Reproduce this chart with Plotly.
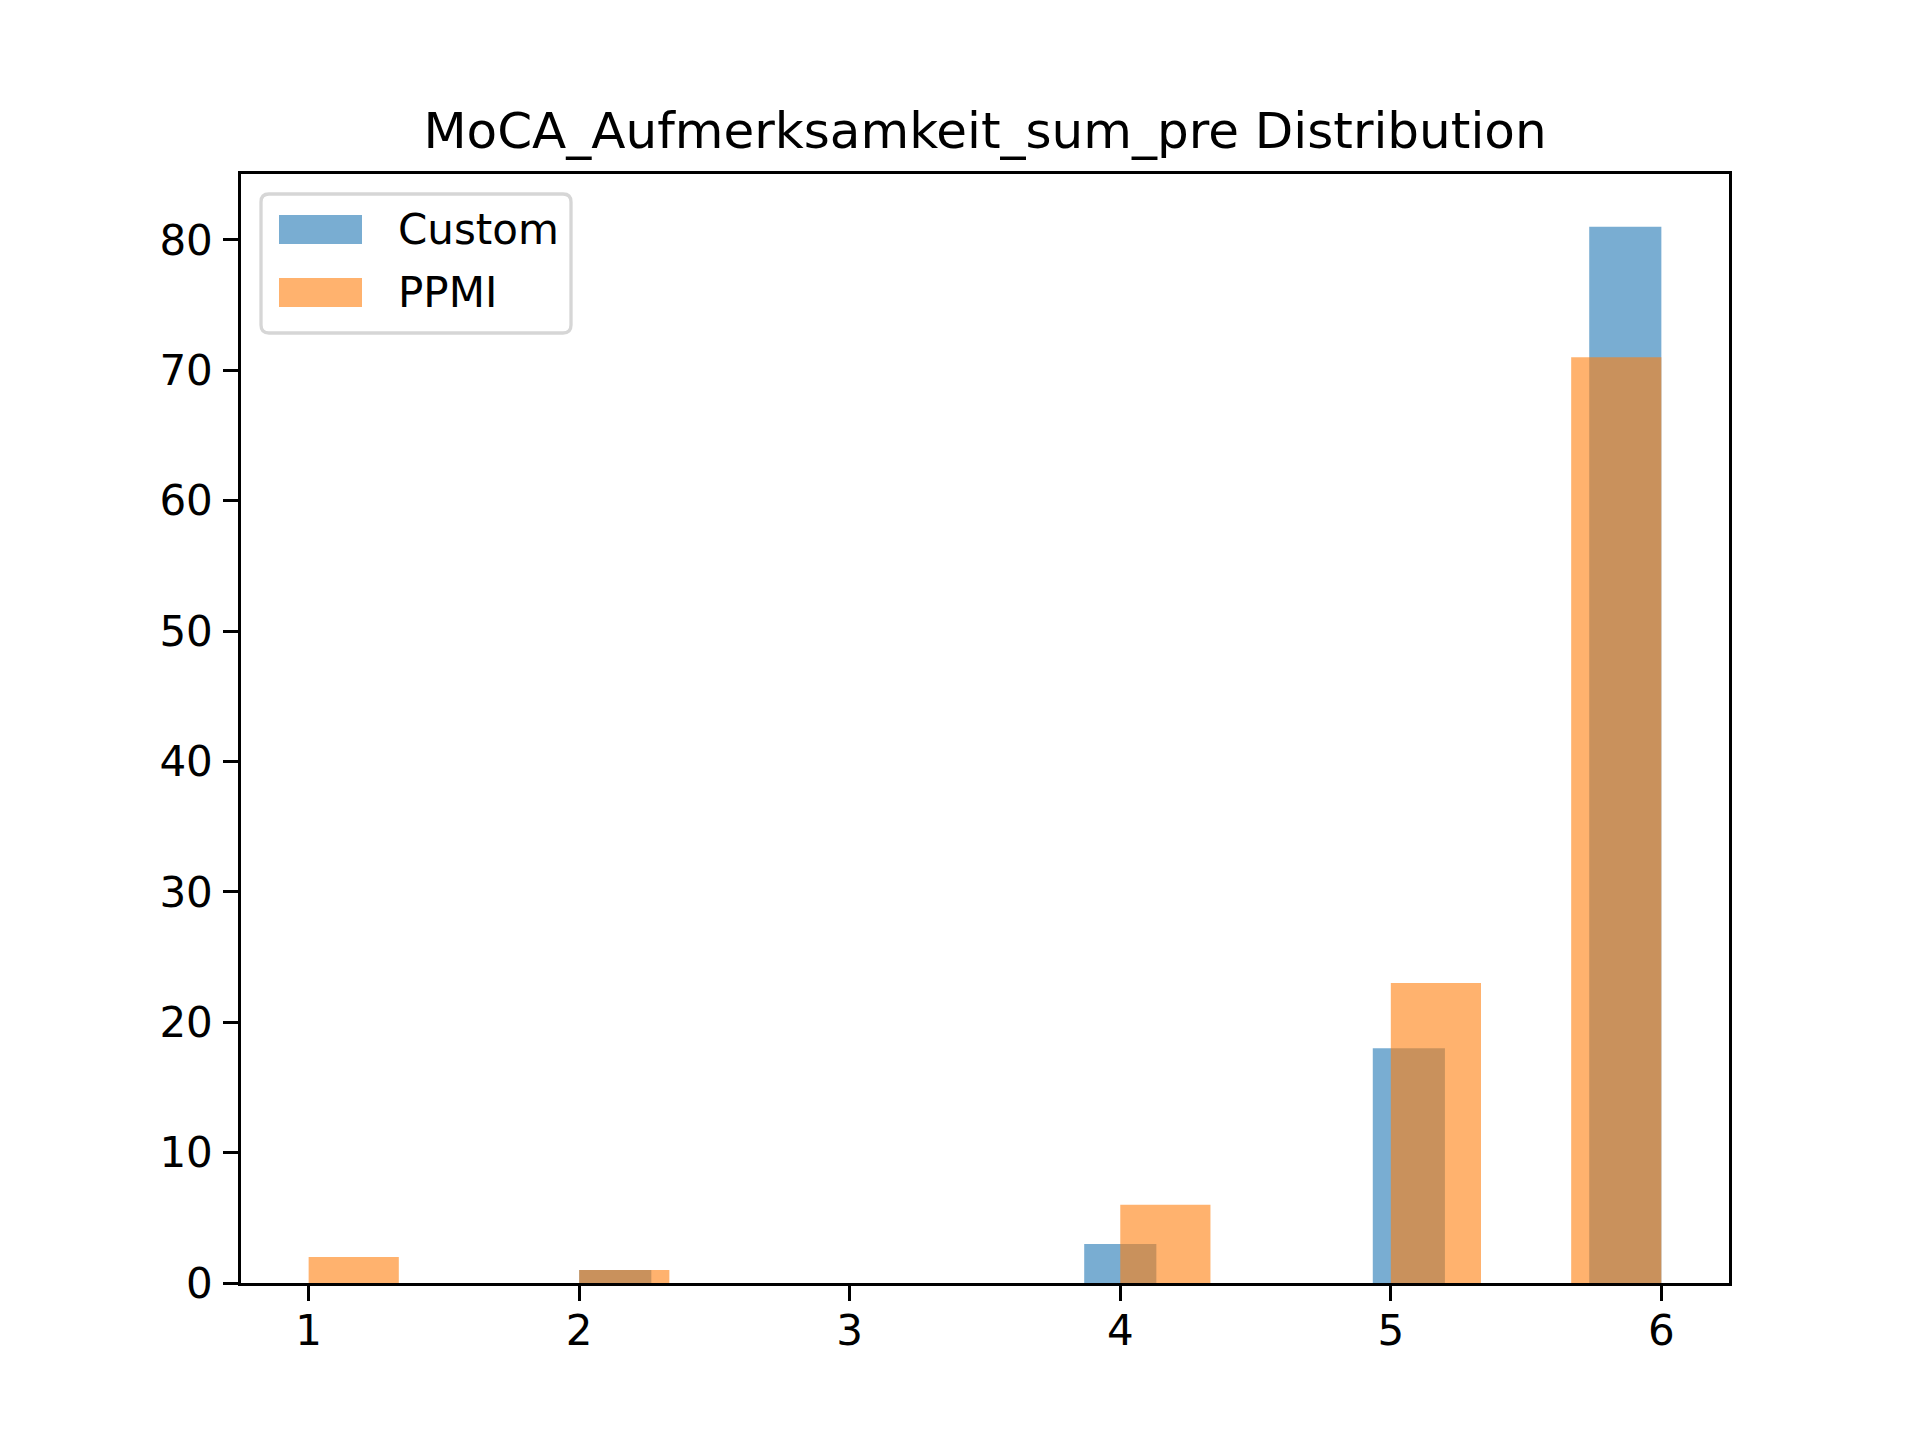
import numpy as np
import plotly.graph_objects as go

# observed scores and how often each occurs
custom_scores = [2, 4, 5, 6]
custom_counts = [1, 3, 18, 81]
ppmi_scores = [1, 2, 4, 5, 6]
ppmi_counts = [2, 1, 6, 23, 71]

series_names = ["Custom", "PPMI"]
series_colors = ["#1f77b4", "#ff7f0e"]

x_ticks = [1, 2, 3, 4, 5, 6]
y_ticks = [0, 10, 20, 30, 40, 50, 60, 70, 80]

FONT = "DejaVu Sans"
PLOT_W, PLOT_H = 1488, 1109  # plot area in px


def hist_bars(scores, counts, name, color):
    # same binning as a default 15-bin histogram over the data range
    h, edges = np.histogram(scores, bins=15, weights=counts)
    return go.Bar(
        x=edges[:-1],
        y=h,
        width=np.diff(edges),
        offset=0,
        name=name,
        marker=dict(color=color, line=dict(width=0)),
        opacity=0.6,
        showlegend=False,
    )


fig = go.Figure()
fig.add_trace(hist_bars(custom_scores, custom_counts, series_names[0], series_colors[0]))
fig.add_trace(hist_bars(ppmi_scores, ppmi_counts, series_names[1], series_colors[1]))


def px(x):
    return x / PLOT_W


def py(y):
    return 1 - y / PLOT_H


# legend box drawn by hand (px offsets from the plot area's top-left corner)
lx0, lx1, ly0, ly1, r = 20, 330, 20, 159, 8
frame = (
    f"M {px(lx0 + r)} {py(ly0)} L {px(lx1 - r)} {py(ly0)} "
    f"Q {px(lx1)} {py(ly0)} {px(lx1)} {py(ly0 + r)} "
    f"L {px(lx1)} {py(ly1 - r)} Q {px(lx1)} {py(ly1)} {px(lx1 - r)} {py(ly1)} "
    f"L {px(lx0 + r)} {py(ly1)} Q {px(lx0)} {py(ly1)} {px(lx0)} {py(ly1 - r)} "
    f"L {px(lx0)} {py(ly0 + r)} Q {px(lx0)} {py(ly0)} {px(lx0 + r)} {py(ly0)} Z"
)
fig.add_shape(
    type="path", path=frame, xref="paper", yref="paper",
    line=dict(color="#d6d6d6", width=3.3), fillcolor="rgba(255,255,255,0.8)",
)
for i, (name, color) in enumerate(zip(series_names, series_colors)):
    top = 41 + i * 63
    fig.add_shape(
        type="rect", xref="paper", yref="paper",
        x0=px(38), x1=px(121), y0=py(top), y1=py(top + 29),
        fillcolor=color, opacity=0.6, line=dict(width=0),
    )
    fig.add_annotation(
        text=name, xref="paper", yref="paper",
        x=px(155), y=py(top + 14.5), xanchor="left", yanchor="middle",
        showarrow=False, font=dict(family=FONT, size=42, color="black"),
    )

axis_style = dict(
    showline=True,
    linecolor="black",
    linewidth=3.3,
    mirror=True,
    showgrid=False,
    zeroline=False,
    ticks="outside",
    ticklen=14.6,
    tickwidth=3.3,
    tickcolor="black",
    tickfont=dict(family=FONT, size=42, color="black"),
)

fig.update_layout(
    width=1920,
    height=1440,
    barmode="overlay",
    plot_bgcolor="white",
    paper_bgcolor="white",
    margin=dict(l=233, r=199, t=166, b=165),
    title=dict(
        text="MoCA_Aufmerksamkeit_sum_pre Distribution",
        x=(233 + PLOT_W / 2) / 1920,
        xanchor="center",
        y=1 - 140 / 1440,
        yanchor="bottom",
        font=dict(family=FONT, size=50, color="black"),
    ),
    xaxis=dict(axis_style, range=[0.75, 6.25], tickvals=x_ticks, ticklabelstandoff=-6),
    yaxis=dict(axis_style, range=[0, 85.05], tickvals=y_ticks, ticklabelstandoff=2),
)

fig.write_html("out.html")
